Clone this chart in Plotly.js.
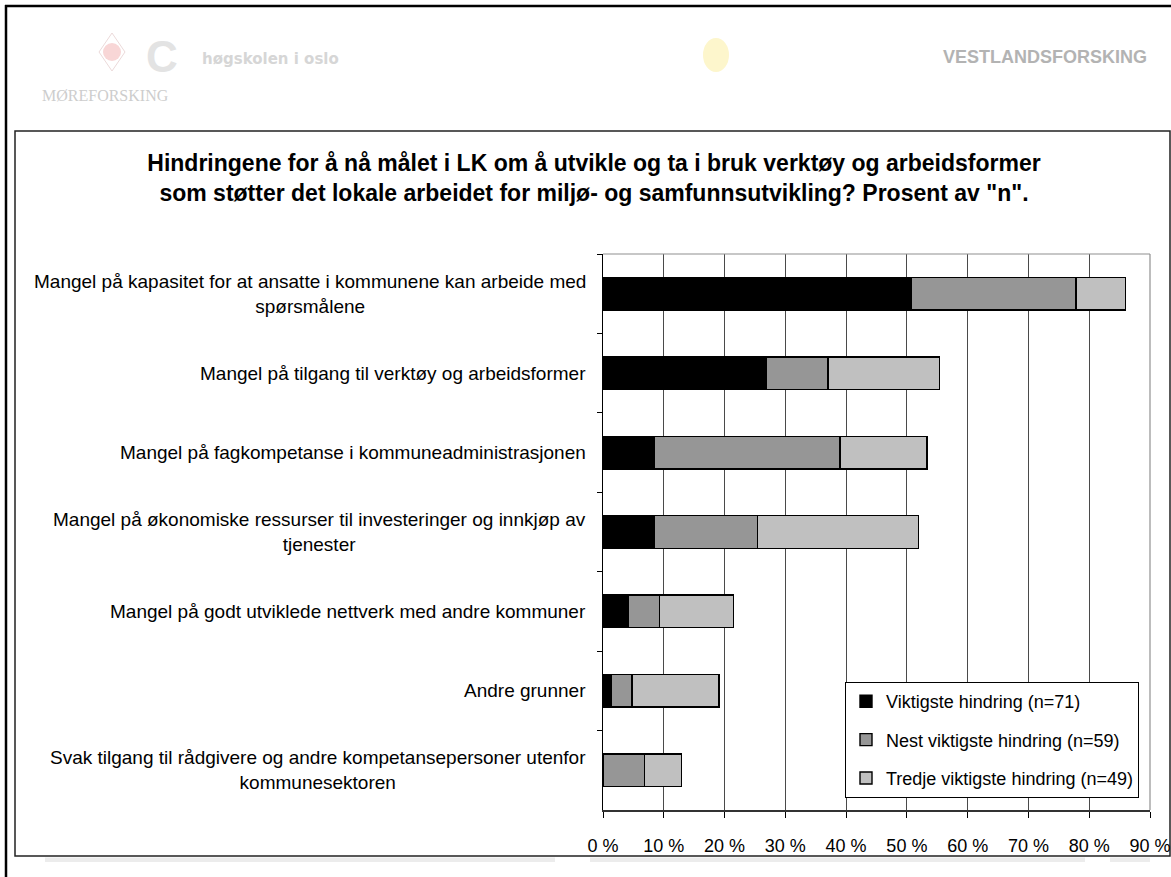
<!DOCTYPE html>
<html>
<head>
<meta charset="utf-8">
<script src="https://cdn.plot.ly/plotly-3.0.1.min.js"></script>
<style>
html,body{margin:0;padding:0;background:#fff;}
#chart{width:1171px;height:877px;}
</style>
</head>
<body>
<div id="chart"></div>
<script>
// ---- data ----
const categories = [
  "Mangel på kapasitet for at ansatte i kommunene kan arbeide med<br>spørsmålene",
  "Mangel på tilgang til verktøy og arbeidsformer",
  "Mangel på fagkompetanse i kommuneadministrasjonen",
  "Mangel på økonomiske ressurser til investeringer og innkjøp av<br>tjenester",
  "Mangel på godt utviklede nettverk med andre kommuner",
  "Andre grunner",
  "Svak tilgang til rådgivere og andre kompetansepersoner utenfor<br>kommunesektoren"
];
const seriesNames = [
  "Viktigste hindring (n=71)",
  "Nest viktigste hindring (n=59)",
  "Tredje viktigste hindring (n=49)"
];
const viktigste = [50.7, 26.8, 8.5, 8.5, 4.2, 1.4, 0];
const nest      = [27.1, 10.2, 30.5, 16.9, 5.1, 3.4, 6.8];
const tredje    = [8.2, 18.4, 14.3, 26.5, 12.2, 14.3, 6.1];
const tickVals  = [0,10,20,30,40,50,60,70,80,90];
const tickText  = ["0 %","10 %","20 %","30 %","40 %","50 %","60 %","70 %","80 %","90 %"];
const titleText = "Hindringene for å nå målet i LK om å utvikle og ta i bruk verktøy og arbeidsformer<br>som støtter det lokale arbeidet for miljø- og samfunnsutvikling? Prosent av \"n\".";
const logoTexts = ["MØREFORSKING", "høgskolen i oslo", "VESTLANDSFORSKING"];

// ---- layout geometry (pixels) ----
const W = 1171, H = 877;
const L = 603, R = 1150, T = 254, B = 810;
const px = x => (x - L) / (R - L);
const py = y => (B - y) / (B - T);

const colors = ["#000000", "#969696", "#c0c0c0"];
const allValues = [viktigste, nest, tredje];

const traces = allValues.map((vals, i) => ({
  type: "bar",
  orientation: "h",
  name: seriesNames[i],
  legendgroup: "g" + i,
  y: categories,
  x: vals,
  marker: {color: colors[i], line: {color: "#000", width: 1.4}},
  hoverinfo: "skip"
}));

const font = "Liberation Sans, Arial, sans-serif";

const annotations = categories.map(c => ({
  xref: "paper", yref: "y", x: 0, y: c, xanchor: "right", yanchor: "middle",
  xshift: -15, text: c, align: "center", showarrow: false,
  font: {family: font, size: 19, color: "#000"}
}));

// faint logos header
annotations.push(
  {xref:"paper", yref:"paper", x:px(105), y:py(95), xanchor:"center", yanchor:"middle", text:logoTexts[0], showarrow:false,
   font:{family:"Liberation Serif, DejaVu Serif, serif", size:16, color:"#cdcdcd"}},
  {xref:"paper", yref:"paper", x:px(162), y:py(56), xanchor:"center", yanchor:"middle", text:"<b>C</b>", showarrow:false,
   font:{family:font, size:44, color:"#e3e3e3"}},
  {xref:"paper", yref:"paper", x:px(270), y:py(59), xanchor:"center", yanchor:"middle", text:"<b>" + logoTexts[1] + "</b>", showarrow:false,
   font:{family:"DejaVu Sans, sans-serif", size:15, color:"#d6d6d6"}},
  {xref:"paper", yref:"paper", x:px(1045), y:py(57), xanchor:"center", yanchor:"middle", text:"<b>" + logoTexts[2] + "</b>", showarrow:false,
   font:{family:"Liberation Sans, Arial, sans-serif", size:18, color:"#b3b3b3"}}
);

const dcx = 112, dcy = 52;
const shapes = [
  // outer frame lines
  {type:"line", xref:"paper", yref:"paper", x0:px(6), x1:px(6), y0:py(5), y1:py(877), line:{color:"#000", width:2.5}},
  {type:"line", xref:"paper", yref:"paper", x0:px(5), x1:px(1171), y0:py(6), y1:py(6), line:{color:"#000", width:2.5}},
  // chart box
  {type:"rect", xref:"paper", yref:"paper", x0:px(15), x1:px(1170), y0:py(131), y1:py(856), line:{color:"#222", width:1.5}, layer:"below"},
  // shadow below box
  {type:"rect", xref:"paper", yref:"paper", x0:px(45), x1:px(555), y0:py(857.5), y1:py(862), line:{width:0}, fillcolor:"#ececec"},
  {type:"rect", xref:"paper", yref:"paper", x0:px(590), x1:px(1085), y0:py(857.5), y1:py(862), line:{width:0}, fillcolor:"#ececec"},
  {type:"rect", xref:"paper", yref:"paper", x0:px(1110), x1:px(1150), y0:py(857.5), y1:py(862), line:{width:0}, fillcolor:"#ececec"},
  // Møreforsking logo mark
  {type:"path", xref:"paper", yref:"paper",
   path:`M${px(dcx)},${py(dcy-19)} L${px(dcx+13)},${py(dcy)} L${px(dcx)},${py(dcy+19)} L${px(dcx-13)},${py(dcy)} Z`,
   line:{color:"#ecdada", width:1}, fillcolor:"rgba(0,0,0,0)"},
  {type:"circle", xref:"paper", yref:"paper", x0:px(dcx-9), x1:px(dcx+9), y0:py(dcy+9), y1:py(dcy-9), line:{width:0}, fillcolor:"#f8d6d6"},
  // yellow logo blob
  {type:"circle", xref:"paper", yref:"paper", x0:px(703), x1:px(729), y0:py(38), y1:py(72), line:{width:0}, fillcolor:"#fdf6cc"},
  // top and right plot border (gray)
  {type:"line", xref:"paper", yref:"paper", x0:0, x1:1, y0:1, y1:1, line:{color:"#909090", width:1.2}},
  {type:"line", xref:"paper", yref:"paper", x0:1, x1:1, y0:0, y1:1, line:{color:"#909090", width:1.2}}
];

const layout = {
  width: W, height: H,
  margin: {l: L, r: W - R, t: T, b: H - B, pad: 0},
  paper_bgcolor: "#fff", plot_bgcolor: "#fff",
  font: {family: font, size: 18, color: "#000"},
  title: {
    text: "<b>" + titleText + "</b>",
    xref: "container", yref: "container", x: 594 / W, xanchor: "center",
    y: 1 - 171 / H, yanchor: "top",
    font: {family: font, size: 23, color: "#000"}
  },
  barmode: "stack",
  bargap: 0.59,
  showlegend: true,
  legend: {
    x: px(1139), xanchor: "right", y: py(798), yanchor: "bottom",
    bgcolor: "#fff", bordercolor: "#000", borderwidth: 1,
    traceorder: "grouped", tracegroupgap: 12,
    font: {family: font, size: 18, color: "#000"}
  },
  xaxis: {
    range: [0, 90], tickvals: tickVals, ticktext: tickText,
    showgrid: true, gridcolor: "#4a4a4a", gridwidth: 1,
    zeroline: false,
    showline: true, linecolor: "#333", linewidth: 2,
    ticks: "outside", ticklen: 6, tickcolor: "#000", tickwidth: 1,
    ticklabelstandoff: 12,
    tickfont: {family: font, size: 18, color: "#000"},
    fixedrange: true
  },
  yaxis: {
    type: "category", categoryorder: "array", categoryarray: categories,
    autorange: "reversed",
    showticklabels: false, showgrid: false, zeroline: false,
    showline: true, linecolor: "#000", linewidth: 1.2,
    ticks: "outside", ticklen: 5, tickcolor: "#000", tickson: "boundaries",
    fixedrange: true
  },
  annotations: annotations,
  shapes: shapes,
  hovermode: false
};

Plotly.newPlot("chart", traces, layout, {displayModeBar: false, staticPlot: true});
</script>
</body>
</html>
